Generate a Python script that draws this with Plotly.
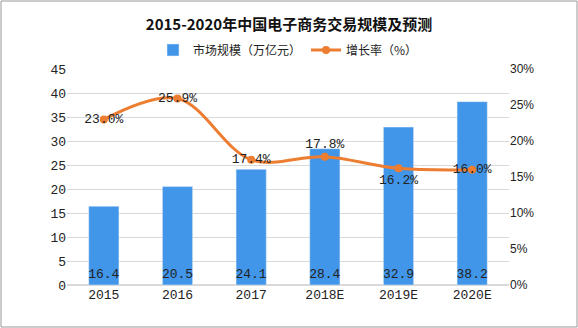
import plotly.graph_objects as go

years = ["2015", "2016", "2017", "2018E", "2019E", "2020E"]
market = [16.4, 20.5, 24.1, 28.4, 32.9, 38.2]
growth = [23.0, 25.9, 17.4, 17.8, 16.2, 16.0]
growth_pos = ["middle center", "middle center", "middle center", "top center", "bottom center", "middle center"]

mono = "Liberation Mono, DejaVu Sans Mono, monospace"
cjk = "Noto Sans CJK SC, sans-serif"

fig = go.Figure()
fig.add_trace(go.Bar(
    x=years, y=market, name="市场规模（万亿元）",
    marker=dict(color="#4196EA"), width=0.41,
    text=[f"{v:.1f}" for v in market], textposition="inside",
    insidetextanchor="start", textangle=0, constraintext="none",
    textfont=dict(family=mono, size=13, color="#222222"),
))
fig.add_trace(go.Scatter(
    x=years, y=[g / 100 for g in growth], name="增长率（%）", yaxis="y2",
    mode="lines+markers+text",
    line=dict(color="#ED7D31", width=3, shape="spline", smoothing=1.0),
    marker=dict(color="#ED7D31", size=8),
    text=[f"{g:.1f}%" for g in growth], textposition=growth_pos,
    textfont=dict(family=mono, size=13, color="#222222"),
))

fig.update_layout(
    width=578, height=328,
    margin=dict(l=67, r=69, t=69, b=43),
    paper_bgcolor="white", plot_bgcolor="white",
    title=dict(text="<b>2015-2020年中国电子商务交易规模及预测</b>",
               x=0.5, xanchor="center", y=0.925, yanchor="middle",
               font=dict(family=cjk, size=15, color="#111111")),
    legend=dict(orientation="h", x=0.5, xanchor="center", y=1.088, yanchor="middle",
                font=dict(family=cjk, size=12, color="#222222"), traceorder="normal"),
    xaxis=dict(showgrid=False, ticks="", showline=False,
               tickfont=dict(family=mono, size=13, color="#222222")),
    yaxis=dict(range=[0, 45], dtick=5, showgrid=True, gridcolor="#D9D9D9",
               zeroline=True, zerolinecolor="#D9D9D9", ticks="",
               tickfont=dict(family=mono, size=13, color="#222222")),
    yaxis2=dict(range=[0, 0.30], dtick=0.05, tickformat=".0%", overlaying="y",
                side="right", showgrid=False, zeroline=False, ticks="",
                tickfont=dict(family="Liberation Sans, Arial, sans-serif", size=12, color="#222222")),
    shapes=[dict(type="rect", xref="paper", yref="paper",
                 x0=-66 / 442, x1=1 + 68 / 442, y0=-42 / 216, y1=1 + 68 / 216,
                 line=dict(color="#999999", width=1))],
)

fig.write_html("out.html")
